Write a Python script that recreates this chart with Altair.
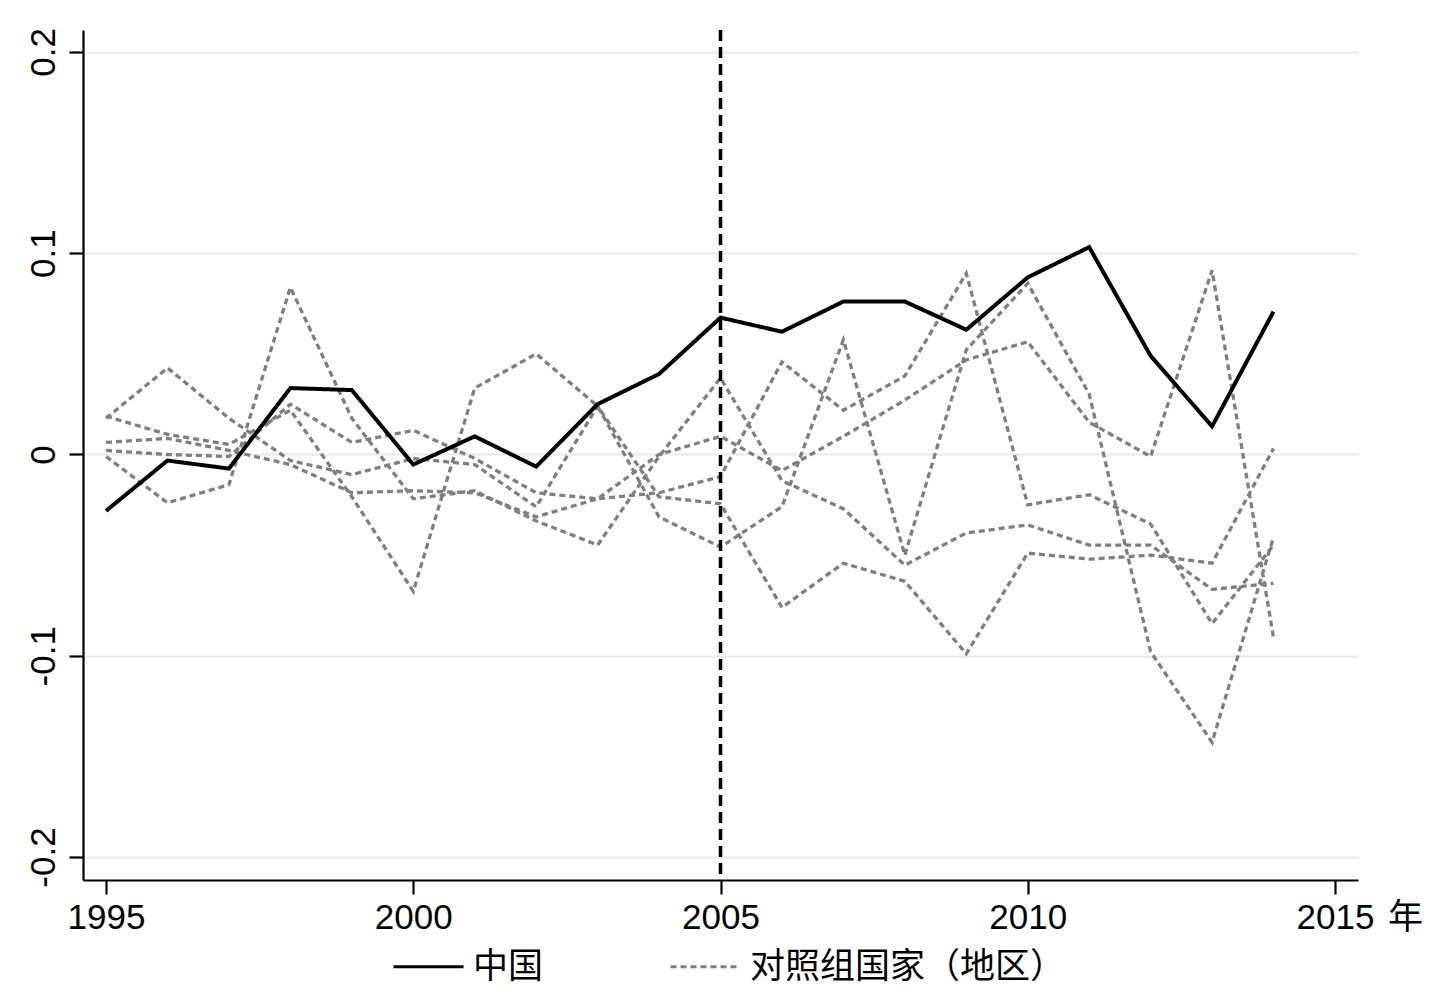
import altair as alt
import pandas as pd

years = [1995, 1996, 1997, 1998, 1999, 2000, 2001, 2002, 2003, 2004,
         2005, 2006, 2007, 2008, 2009, 2010, 2011, 2012, 2013, 2014]

china = [-0.028, -0.003, -0.007, 0.033, 0.032, -0.005, 0.009, -0.006, 0.025, 0.040,
         0.068, 0.061, 0.076, 0.076, 0.062, 0.088, 0.103, 0.049, 0.014, 0.071]

control_1 = [0.006, 0.008, 0.002, -0.005, -0.019, -0.018, -0.019, -0.031, -0.022, 0.000,
             0.009, -0.008, 0.009, 0.027, 0.047, 0.056, 0.016, -0.001, 0.0915, -0.091]
control_2 = [0.019, 0.010, 0.005, 0.022, -0.021, -0.068, 0.033, 0.050, 0.024, -0.031,
             -0.046, -0.026, 0.057, -0.050, 0.052, 0.085, 0.030, -0.098, -0.143, -0.041]
control_3 = [0.018, 0.043, 0.018, -0.003, -0.010, -0.002, -0.005, -0.026, 0.024, -0.021,
             -0.0245, -0.076, -0.054, -0.063, -0.099, -0.049, -0.052, -0.050, -0.054, 0.003]
control_4 = [-0.001, -0.024, -0.015, 0.083, 0.018, -0.022, -0.018, -0.033, -0.045, -0.001,
             0.038, -0.013, -0.027, -0.055, -0.039, -0.035, -0.045, -0.045, -0.067, -0.064]
control_5 = [0.002, 0.000, -0.001, 0.025, 0.006, 0.012, -0.002, -0.019, -0.022, -0.019,
             -0.011, 0.046, 0.022, 0.039, 0.090, -0.025, -0.020, -0.0345, -0.084, -0.045]

groups = ["中国", "对照组国家（地区）"]
x_ticks = [1995, 2000, 2005, 2010, 2015]
y_ticks = [-0.2, -0.1, 0, 0.1, 0.2]
treat_year = [2005]

rows = []
for name, vals in [("c1", control_1), ("c2", control_2), ("c3", control_3),
                   ("c4", control_4), ("c5", control_5)]:
    for yr, v in zip(years, vals):
        rows.append({"year": yr, "value": v, "series": name, "group": groups[1]})
ctrl_df = pd.DataFrame(rows)
china_df = pd.DataFrame({"year": years, "value": china, "series": "china", "group": groups[0]})
rule_df = pd.DataFrame({"year": treat_year})

W, H = 1275, 850

x_enc = alt.X("year:Q",
              scale=alt.Scale(domain=[1994.625, 2015.375], nice=False, zero=False),
              axis=alt.Axis(values=x_ticks, format="d", grid=False, title="年",
                            titleFont="Noto Sans CJK SC", titleFontSize=35,
                            titleFontWeight="normal", titleColor="black",
                            titleX=1322, titleY=48, titleAlign="center",
                            titleBaseline="alphabetic", titleAnchor="start",
                            labelPadding=6, labelFlush=False))
y_enc = alt.Y("value:Q",
              scale=alt.Scale(domain=[-0.2114, 0.2109], nice=False, zero=False),
              axis=alt.Axis(values=y_ticks, grid=True, title=None, labelAngle=270,
                            labelAlign="center", labelBaseline="alphabetic",
                            labelPadding=15,
                            labelExpr="datum.value == 0 ? '0' : (datum.value < 0 ? '-' : '') + format(abs(datum.value), '.1f')"))

legend_args = dict(title=None, orient="none", direction="horizontal",
                   legendX=309, legendY=900,
                   symbolType="stroke", symbolSize=4900,
                   symbolStrokeWidth=3, labelFont="Noto Sans CJK SC",
                   labelFontSize=35, labelColor="black", labelLimit=0,
                   labelOffset=8, columnPadding=120, padding=0)

color_enc = alt.Color("group:N",
                      scale=alt.Scale(domain=groups, range=["#000000", "#7f7f7f"]),
                      legend=alt.Legend(**legend_args))
dash_enc = alt.StrokeDash("group:N",
                          scale=alt.Scale(domain=groups, range=[[1, 0], [6, 4]]),
                          legend=alt.Legend(**legend_args))

controls = alt.Chart(ctrl_df).mark_line(strokeWidth=3.3).encode(
    x=x_enc, y=y_enc, color=color_enc, strokeDash=dash_enc, detail="series:N")

rule = alt.Chart(rule_df).mark_rule(color="black", strokeWidth=3.5, strokeDash=[11, 6]).encode(
    x="year:Q")

china_line = alt.Chart(china_df).mark_line(strokeWidth=4).encode(
    x=x_enc, y=y_enc, color=color_enc, strokeDash=dash_enc, detail="series:N")

chart = alt.layer(controls, rule, china_line).properties(
    width=W, height=H,
    autosize=alt.AutoSizeParams(type="none"),
    padding={"left": 75, "top": 22, "right": 70, "bottom": 115},
    background="white",
).configure_view(stroke=None).configure_axis(
    domainColor="black", domainWidth=2.2, tickColor="black", tickWidth=2.2, tickSize=14,
    labelFont="Liberation Sans", labelFontSize=35, labelColor="black",
    gridColor="#e3ebeb", gridWidth=2.2,
)

chart.save("out.html", embed_options={"renderer": "svg", "actions": False})
